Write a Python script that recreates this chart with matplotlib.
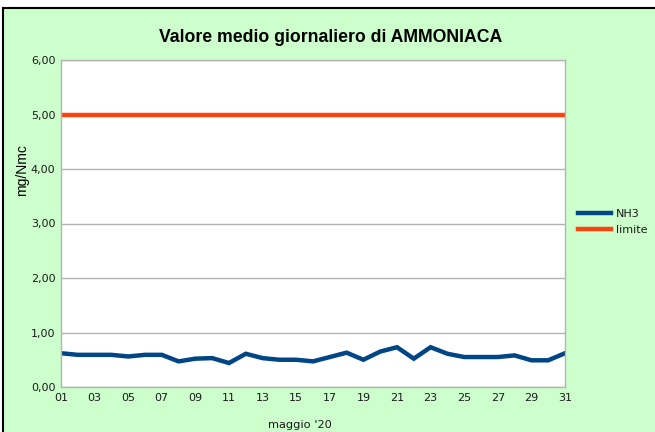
import numpy as np
import matplotlib.pyplot as plt
from matplotlib.patches import Rectangle
from matplotlib.lines import Line2D

# daily values (maggio '20)
days = list(range(1, 32))
nh3 = [0.62, 0.59, 0.59, 0.59, 0.56, 0.59, 0.59, 0.47, 0.52, 0.53,
       0.44, 0.61, 0.53, 0.50, 0.50, 0.47, 0.55, 0.63, 0.50, 0.65,
       0.73, 0.52, 0.73, 0.61, 0.55, 0.55, 0.55, 0.58, 0.49, 0.49, 0.62]
limite = [5.0] * 31
yticks = [0, 1, 2, 3, 4, 5, 6]
xticks = list(range(1, 32, 2))

W, H = 655, 432
fig = plt.figure(figsize=(W / 100, H / 100), dpi=100)
fig.patch.set_facecolor("white")

# green chart area with black border on top/left
bg = Rectangle((3 / W, 0), 1, (H - 8) / H, transform=fig.transFigure,
               facecolor="#ccffcc", edgecolor="none", zorder=-2)
fig.patches.append(bg)
fig.lines.append(Line2D([3 / W, 1], [(H - 8) / H] * 2, transform=fig.transFigure,
                        color="black", lw=1.5))
fig.lines.append(Line2D([3 / W] * 2, [0, (H - 8) / H], transform=fig.transFigure,
                        color="black", lw=1.5))

ax = fig.add_axes([61 / W, 45 / H, 504 / W, 327 / H])
ax.set_facecolor("white")

ax.plot(days, nh3, color="#004586", lw=3.2, label="NH3", solid_joinstyle="miter")
ax.plot(days, limite, color="#ff420e", lw=3.2, label="limite")

ax.set_xlim(1, 31)
ax.set_ylim(0, 6)
ax.set_yticks(yticks)
ax.set_yticklabels([f"{v:.2f}".replace(".", ",") for v in yticks])
ax.set_xticks(xticks)
ax.set_xticklabels([f"{d:02d}" for d in xticks])
ax.tick_params(length=0, labelsize=8, colors="#1a1a1a", pad=4)
ax.yaxis.grid(True, color="#b3b3b3", lw=1)
ax.set_axisbelow(True)
for s in ax.spines.values():
    s.set_color("#b3b3b3")
    s.set_linewidth(1)

fig.text(331 / W, 1 - 37 / H, "Valore medio giornaliero di AMMONIACA",
         ha="center", va="center", fontsize=12.7, fontweight="bold",
         family="Liberation Sans")
fig.text(22 / W, 1 - 170 / H, "mg/Nmc", rotation=90, ha="center", va="center",
         fontsize=10, family="Liberation Sans")
fig.text(300 / W, 1 - 425 / H, "maggio '20", ha="center", va="center",
         fontsize=8.2, color="#1a1a1a")

leg = ax.legend(loc="center left", bbox_to_anchor=(568 / W, 1 - 222 / H),
                bbox_transform=fig.transFigure, frameon=False, fontsize=8,
                handlelength=3.0, handletextpad=0.4, labelspacing=0.5)
for t in leg.get_texts():
    t.set_color("#1a1a1a")

fig.savefig("out.png", dpi=100)
